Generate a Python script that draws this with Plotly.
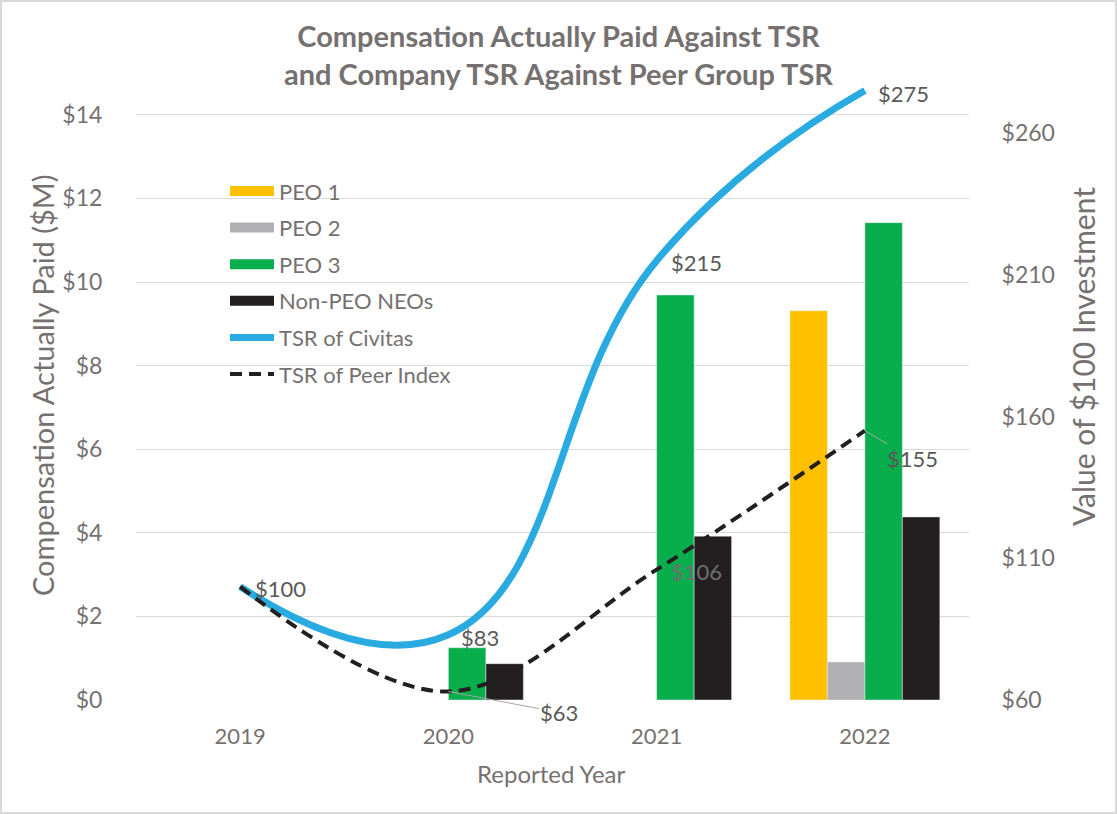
import plotly.graph_objects as go

years = [2019, 2020, 2021, 2022]
year_labels = ["2019", "2020", "2021", "2022"]
peo1 = [None, None, None, 9.31]
peo2 = [None, None, None, 0.91]
peo3 = [None, 1.25, 9.69, 11.42]
non_peo = [None, 0.87, 3.92, 4.38]
tsr_civitas = [100, 83, 215, 275]
tsr_peer = [100, 63, 106, 155]

left_ticks = [0, 2, 4, 6, 8, 10, 12, 14]
left_labels = ["$0", "$2", "$4", "$6", "$8", "$10", "$12", "$14"]
right_ticks = [60, 110, 160, 210, 260]
right_labels = ["$60", "$110", "$160", "$210", "$260"]

FONT = "Lato"
GRAY = "#767171"
LABEL = "#595959"

bar_series = [("PEO 1", peo1, "#FFC000"), ("PEO 2", peo2, "#B1B1B3"),
              ("PEO 3", peo3, "#08AE4B"), ("Non-PEO NEOs", non_peo, "#231F20")]

fig = go.Figure()
for name, vals, col in bar_series:
    fig.add_bar(x=years, y=vals, name=name, marker_color=col, legendgroup=name,
                showlegend=False)
# wide legend swatches for the bar series (legend only)
for name, vals, col in bar_series:
    fig.add_scatter(x=[None], y=[None], name=name, mode="lines", legendgroup=name,
                    line=dict(color=col, width=14), hoverinfo="skip")

fig.add_scatter(x=years, y=tsr_civitas, name="TSR of Civitas", yaxis="y2",
                legendgroup="civ", mode="lines",
                line=dict(color="#29ABE2", width=7, shape="spline", smoothing=1.3))
fig.add_scatter(x=years, y=tsr_peer, name="TSR of Peer Index", yaxis="y2",
                legendgroup="peer", mode="lines",
                line=dict(color="#231F20", width=4, dash="12px,7px",
                          shape="spline", smoothing=1.0))


def lab(i, series, dx, dy, color=LABEL):
    fig.add_annotation(x=years[i], y=series[i], xref="x", yref="y2",
                       text="$" + str(series[i]), showarrow=False,
                       xanchor="left", yanchor="middle", xshift=dx, yshift=dy,
                       font=dict(family=FONT, size=22, color=color))


lab(0, tsr_civitas, 13, -2)
lab(1, tsr_civitas, 11, -3)
lab(2, tsr_civitas, 12, -2)
lab(3, tsr_civitas, 11, -3)
lab(2, tsr_peer, 12, -2, color="#707070")

for i, ax, ay in [(1, 111, 21), (3, 48, 28)]:
    fig.add_annotation(x=years[i], y=tsr_peer[i], xref="x", yref="y2",
                       text="$" + str(tsr_peer[i]), showarrow=True, arrowhead=0,
                       arrowwidth=1, arrowcolor="#A6A6A6", ax=ax, ay=ay, standoff=0,
                       font=dict(family=FONT, size=22, color=LABEL))

# axis titles
fig.add_annotation(text="Compensation Actually Paid ($M)", xref="paper", yref="paper",
                   x=(43 - 136) / 833, y=0.5008, textangle=-90, showarrow=False,
                   xanchor="center", yanchor="middle",
                   font=dict(family=FONT, size=29, color=GRAY))
fig.add_annotation(text="Value of $100 Investment", xref="paper", yref="paper",
                   x=(1083 - 136) / 833, y=(700 - 357) / 627, textangle=-90, showarrow=False,
                   xanchor="center", yanchor="middle",
                   font=dict(family=FONT, size=30, color=GRAY))
fig.add_annotation(text="Reported Year", xref="paper", yref="paper",
                   x=(551 - 136) / 833, y=(700 - 773) / 627, showarrow=False,
                   xanchor="center", yanchor="middle",
                   font=dict(family=FONT, size=24, color=GRAY))

fig.update_layout(
    width=1117, height=814,
    margin=dict(l=136, r=148, t=73, b=114),
    paper_bgcolor="white", plot_bgcolor="white",
    font=dict(family=FONT, color=GRAY),
    barmode="group", bargap=0.28, bargroupgap=0,
    title=dict(text="<b>Compensation Actually Paid Against TSR<br>and Company TSR Against Peer Group TSR</b>",
               x=0.5, xanchor="center", y=1 - 47 / 814, yanchor="middle", yref="container",
               font=dict(family=FONT, size=29, color=GRAY)),
    xaxis=dict(range=[2018.5, 2022.5], tickvals=years, ticktext=year_labels,
               showgrid=False, ticks="outside", ticklen=17, tickcolor="white",
               tickfont=dict(size=22, color=GRAY), showline=False, zeroline=False),
    yaxis=dict(range=[0, 15], tickvals=left_ticks, ticktext=left_labels, showgrid=True,
               gridcolor="#D9D9D9", gridwidth=1, zeroline=False,
               ticks="outside", ticklen=28, tickcolor="white",
               tickfont=dict(size=23, color=GRAY)),
    yaxis2=dict(range=[60, 281.2], tickvals=right_ticks, ticktext=right_labels, overlaying="y",
                side="right", showgrid=False, zeroline=False,
                ticks="outside", ticklen=27, tickcolor="white",
                tickfont=dict(size=23, color=GRAY)),
    legend=dict(x=(225 - 136) / 833, y=0.845, xanchor="left", yanchor="top",
                bgcolor="rgba(0,0,0,0)", font=dict(size=22, color=GRAY),
                itemwidth=44, tracegroupgap=5, traceorder="grouped"),
)

fig.add_shape(type="rect", xref="paper", yref="paper",
              x0=(1 - 136) / 833, x1=(1116 - 136) / 833,
              y0=(700 - 813) / 627, y1=(700 - 1) / 627,
              line=dict(color="#D9D9D9", width=2), layer="below")

fig.write_html("out.html", config={"displayModeBar": False},
               post_script="document.body.style.margin='0px';")
